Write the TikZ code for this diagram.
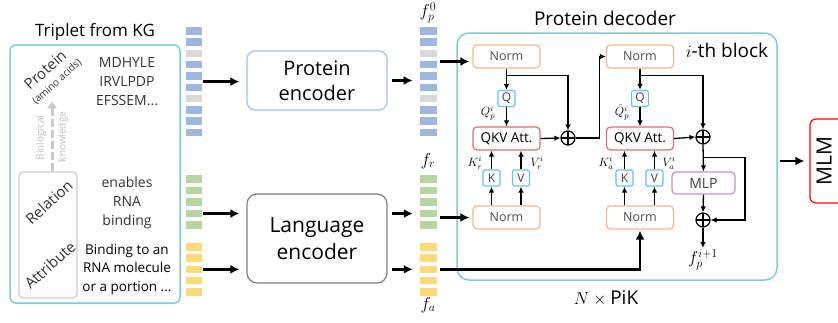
\documentclass[tikz,border=0pt]{standalone}
\usepackage{fontspec}
\setmainfont{Open Sans}
\usepackage{amsmath}
\usetikzlibrary{arrows.meta,positioning,fit}
\definecolor{kgteal}{RGB}{125,205,210}
\definecolor{barblue}{RGB}{158,182,226}
\definecolor{bargray}{RGB}{217,217,217}
\definecolor{bargreen}{RGB}{182,214,160}
\definecolor{baryellow}{RGB}{255,216,120}
\definecolor{encblue}{RGB}{157,195,230}
\definecolor{encgray}{RGB}{128,128,128}
\definecolor{normorange}{RGB}{245,180,140}
\definecolor{qkvblue}{RGB}{90,200,240}
\definecolor{attred}{RGB}{222,110,110}
\definecolor{mlppurple}{RGB}{205,140,210}
\definecolor{knowgray}{RGB}{190,190,190}
\newcommand{\fsz}[2]{\fontsize{#1}{#2}\selectfont}

\begin{document}
\begin{tikzpicture}[x=1pt,y=-1pt,
    box/.style={draw,rounded corners=4pt,line width=1.2pt,inner sep=0pt},
    norm/.style={box,draw=normorange,minimum width=67pt,minimum height=23pt,text=black!70,font=\fsz{12.5}{15}},
    att/.style={box,draw=attred,minimum width=67pt,minimum height=23pt,font=\fsz{13.5}{16}},
    qkv/.style={box,draw=qkvblue,rounded corners=2pt,minimum width=17pt,minimum height=16pt,text=black!75,font=\fsz{12}{14}},
    oplus/.style={circle,draw,line width=1.2pt,minimum size=14pt,inner sep=0pt,
      path picture={\draw[line width=1.2pt] (path picture bounding box.north) -- (path picture bounding box.south)
        (path picture bounding box.west) -- (path picture bounding box.east);}},
    bar/.style={fill=#1,minimum width=16pt,minimum height=7.5pt,inner sep=0pt},
    seq/.style={align=center,font=\fsz{14}{19},text=black!80},
    side/.style={rotate=42,font=\fsz{15}{18},text=black!80},
    know/.style={rotate=90,font=\fsz{10}{12},text=knowgray},
    lbl/.style={font=\fsz{12}{14},inner sep=1pt},
    flbl/.style={font=\fsz{17}{19},inner sep=1pt},
    flow/.style={line width=2.4pt,-{Latex[length=9pt,width=9pt]}},
    link/.style={line width=1.3pt,-{Latex[length=6pt,width=5.5pt]}}]
  \useasboundingbox (0,0) rectangle (838,322);

  % knowledge graph triplet
  \node[font=\fsz{17}{20}] (KGT) at (95,32) {Triplet from KG};
  \node[draw=kgteal,line width=1.5pt,rounded corners=6pt,minimum width=170pt,minimum height=258pt] (KG) at (95,174) {};
  \node[draw=black!20,line width=1.2pt,rounded corners=4pt,minimum width=58pt,minimum height=126pt] (REL) at (48,235) {};
  \node[side] (PROT) at (45,70) {Protein};
  \node[side,font=\fsz{10}{12}] (AMINO) at (57,82) {(amino acids)};
  \node[side] (RELL) at (49,202) {Relation};
  \node[side] (ATTL) at (50,265) {Attribute};
  \node[know] (BIO) at (41,138) {Biological};
  \node[know] (KNOW) at (63,137) {knowledge};
  \draw[knowgray!80,line width=3pt,dash pattern=on 8pt off 3pt,-{Triangle[length=7pt,width=9pt]}]
    ([xshift=4pt]REL.north) -- ++(0,-70);
  \node[seq] (SEQ) at (127,82) {MDHYLE\\IRVLPDP\\EFSSEM...};
  \node[seq] (RELT) at (127,203) {enables\\RNA\\binding};
  \node[seq,text=black,font=\fsz{13.5}{18.5}] (ATTT) at (127,269) {Binding to an\\RNA molecule\\or a portion ...};

  % token bars
  \foreach \c [count=\i] in {barblue,barblue,bargray,barblue,barblue,barblue,bargray,barblue,barblue,barblue} {
    \node[bar=\c] (P1-\i) at (194,{30.75+11.3*(\i-1)}) {};
    \node[bar=\c,minimum width=17pt] (P2-\i) at (428.5,{30.75+11.3*(\i-1)}) {};
  }
  \foreach \i in {1,...,5} {
    \node[bar=bargreen] (R1-\i) at (194,{178.75+11.6*(\i-1)}) {};
    \node[bar=bargreen,minimum width=17pt] (R2-\i) at (428.5,{178.75+11.6*(\i-1)}) {};
    \node[bar=baryellow] (A1-\i) at (194,{246.75+11.3*(\i-1)}) {};
    \node[bar=baryellow,minimum width=17pt] (A2-\i) at (428.5,{246.75+11.3*(\i-1)}) {};
  }
  \node[fit=(P1-1)(P1-10),inner sep=0pt] (colP1) {};
  \node[fit=(P2-1)(P2-10),inner sep=0pt] (colP2) {};
  \node[fit=(R2-1)(R2-5),inner sep=0pt] (colR2) {};
  \node[flbl] (FP0) at (428,13) {$f_p^0$};
  \node[flbl] (FR) at (428,161) {$f_r$};
  \node[flbl] (FA) at (428,305) {$f_a$};

  % encoders
  \node[box,draw=encblue,rounded corners=8pt,minimum width=140pt,minimum height=59pt,align=center,font=\fsz{20}{25}]
    (PE) at (317,80.5) {Protein\\encoder};
  \node[box,draw=encgray,rounded corners=10pt,minimum width=140pt,minimum height=89pt,align=center,font=\fsz{21}{27}]
    (LE) at (317,238.5) {Language\\encoder};
  \draw[flow,shorten <=1pt,shorten >=7pt] (colP1.east) -- (colP1.east -| PE.west);
  \draw[flow,shorten <=1pt,shorten >=7pt] (R1-4.east) -- (R1-4.east -| LE.west);
  \draw[flow,shorten <=1pt,shorten >=7pt] (A1-3.east) -- (A1-3.east -| LE.west);
  \draw[flow,shorten <=4pt,shorten >=7pt] (PE.east) -- (PE.east -| colP2.west);
  \draw[flow,shorten <=4pt,shorten >=7pt] (LE.east |- R2-4) -- (R2-4.west);
  \draw[flow,shorten <=4pt,shorten >=7pt] (LE.east |- A2-3) -- (A2-3.west);

  % protein decoder
  \node[font=\fsz{19}{22}] (DT) at (605,18) {Protein decoder};
  \node[draw=kgteal,line width=1.5pt,rounded corners=12pt,minimum width=320pt,minimum height=247pt] (DEC) at (617,156.5) {};
  \node[font=\fsz{19}{22}] (IB) at (727,50) {$i$-th block};
  \node[font=\fsz{19}{22}] (NP) at (606,298) {$N\times{}$PiK};

  \node[norm] (N1) at (506.5,56.5) {Norm};
  \node[qkv] (Q1) at (506.5,98.5) {Q};
  \node[att] (A1) at (506.5,138.5) {QKV Att.};
  \node[qkv] (K1) at (491.5,178) {K};
  \node[qkv] (V1) at (521,178) {V};
  \node[norm] (N2) at (506.5,217.5) {Norm};
  \node[oplus] (S1) at (568,138) {};
  \node[lbl] (LQ1) at (488,113) {$Q_p^i$};
  \node[lbl] (LK1) at (475,163) {$K_r^i$};
  \node[lbl] (LV1) at (537,163) {$V_r^i$};

  \node[norm] (N3) at (640,56.5) {Norm};
  \node[qkv] (Q2) at (640,98.5) {Q};
  \node[att] (A2) at (640,138.5) {QKV Att.};
  \node[qkv] (K2) at (624.5,178) {K};
  \node[qkv] (V2) at (654.5,178) {V};
  \node[norm] (N4) at (640,217.5) {Norm};
  \node[oplus] (S2) at (703,137) {};
  \node[box,draw=mlppurple,minimum width=63pt,minimum height=22pt,text=black!75,font=\fsz{14}{16}] (MLP) at (703.5,183) {MLP};
  \node[oplus] (S3) at (703,220) {};
  \node[lbl] (LQ2) at (622,112) {$\hat{Q}_p^i$};
  \node[lbl] (LK2) at (606,163) {$K_a^i$};
  \node[lbl] (LV2) at (669,163) {$V_a^i$};
  \node[flbl,anchor=north] (FOUT) at (703,248) {$f_p^{i+1}$};

  \draw[flow,shorten <=3pt,shorten >=3pt] ([yshift=-5pt]N1.west -| colP2.east) -- ([yshift=-5pt]N1.west);
  \draw[flow,shorten <=3pt,shorten >=3pt] (N2.west -| colR2.east) -- (N2.west);
  \draw[flow,shorten <=3pt,shorten >=1pt] (A2-3.east) -| (N4.south);

  \draw[link] (N1.south) -- (Q1.north);
  \draw[link] ([yshift=-7pt]N1.south) -| (S1.north);
  \draw[link] (Q1.south) -- (A1.north);
  \draw[link] (A1.east) -- (S1.west);
  \draw[link] (S1.east) -- ++(24,0) |- (N3.west);
  \draw[link] (N2.north -| K1) -- (K1.south);
  \draw[link] (K1.north) -- (K1.north |- A1.south);
  \draw[link] (N2.north -| V1) -- (V1.south);
  \draw[link] (V1.north) -- (V1.north |- A1.south);

  \draw[link] (N3.south) -- (Q2.north);
  \draw[link] ([yshift=-7pt]N3.south) -| (S2.north);
  \draw[link] (Q2.south) -- (A2.north);
  \draw[link] (A2.east) -- (S2.west);
  \draw[link] (N4.north -| K2) -- (K2.south);
  \draw[link] (K2.north) -- (K2.north |- A2.south);
  \draw[link] (N4.north -| V2) -- (V2.south);
  \draw[link] (V2.north) -- (V2.north |- A2.south);
  \draw[link] (S2.south) -- (MLP.north);
  \draw[link] ([yshift=-13pt]S2.south) -- ++(42,0) |- (S3.east);
  \draw[link] (MLP.south) -- (S3.north);
  \draw[link] (S3.south) -- (FOUT.north);

  % masked language modelling head
  \node[box,draw=red,rounded corners=6pt,minimum width=34pt,minimum height=84pt] (MLM) at (827,161) {};
  \node[rotate=90,font=\fsz{21}{24},inner sep=0pt] (MLMT) at (824,161) {MLM};
  \draw[flow,shorten <=2pt,shorten >=5pt] (MLM.west -| DEC.east) -- (MLM.west);
\end{tikzpicture}
\end{document}
